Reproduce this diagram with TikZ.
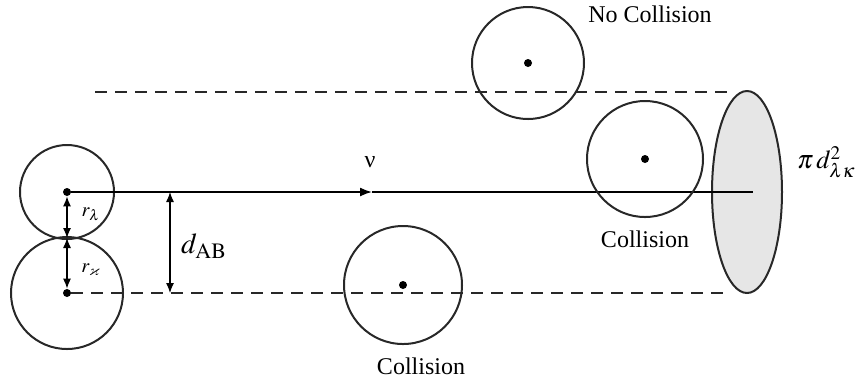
\documentclass[tikz,border=0pt]{standalone}
\usepackage{amssymb}
\usepackage{mathptmx}
\usepackage[no-math]{fontspec}
\setmainfont{Liberation Serif}
\usetikzlibrary{arrows.meta,positioning,shapes.geometric}
\definecolor{discgray}{RGB}{230,230,230}
\definecolor{linegray}{RGB}{40,40,40}

\begin{document}
\begin{tikzpicture}[x=0.5pt,y=-0.5pt,
  particle/.style={draw=linegray, circle, line width=1pt, inner sep=0pt},
  centre/.style={fill=black, circle, inner sep=0pt, minimum size=4pt},
  boundary/.style={draw=linegray, line width=1pt, dash pattern=on 6pt off 4pt},
  dim/.style={{Latex[length=5pt,width=4pt]}-{Latex[length=5pt,width=4pt]}, line width=0.6pt},
  arr/.style={-{Latex[length=6pt,width=4.5pt]}, line width=0.8pt},
  tag/.style={font=\large},
]
  \useasboundingbox (0,0) rectangle (862,388);

  % the two touching molecules
  \node[particle, minimum size=47pt] (molA) at (67,192) {};
  \node[particle, minimum size=56pt] (molB) at (67,293) {};
  \node[centre] (cA) at (67,192) {};
  \node[centre] (cB) at (67,293) {};
  \coordinate (touch) at (67,238);

  % cross section disc
  \node[ellipse, draw=linegray, fill=discgray, line width=1pt, inner sep=0pt,
    minimum width=35pt, minimum height=101pt] (disc) at (747,192) {};
  \node[font=\fontsize{13}{15}\selectfont, anchor=west] (area) at (790,162)
    {$\pi\, d^{2}_{\lambda\kappa}$};

  % swept cylinder
  \coordinate (topL) at (95,92);
  \coordinate (topR) at (727,92);
  \coordinate (botR) at (730,293);
  \coordinate (vtip) at (372,192);
  \coordinate (axisR) at (753,192);
  \draw[boundary] (topL) -- (topR);
  \draw[boundary] (cB) -- (botR);
  \draw[arr] (cA) -- (vtip);
  \draw[line width=0.8pt] (vtip) -- (axisR);
  \node[font=\large] (vel) at (370,162) {ν};

  % radii and distance
  \draw[dim] (cA) -- (touch);
  \draw[dim] (touch) -- (cB);
  \node (rA) at (91,214) {$r_{\lambda}$};
  \node (rB) at (91,270) {$r_{\varkappa}$};
  \coordinate (dTop) at (170,192);
  \coordinate (dBot) at (170,293);
  \draw[dim] (dTop) -- (dBot);
  \node[font=\Large, right=2pt of dTop, yshift=-27pt] (dAB) {$d_{\mathrm{AB}}$};

  % other molecules
  \node[particle, minimum size=56pt] (molC) at (528,63) {};
  \node[centre] at (528,63) {};
  \node[tag] (noCol) at (650,14) {No Collision};

  \node[particle, minimum size=58pt] (molD) at (645,159) {};
  \node[centre] at (645,159) {};
  \node[tag, below=3pt of molD] (colD) {Collision};

  \node[particle, minimum size=59pt] (molE) at (403,285) {};
  \node[centre] at (403,285) {};
  \node[tag, below=3pt of molE, xshift=9pt] (colE) {Collision};
\end{tikzpicture}
\end{document}
